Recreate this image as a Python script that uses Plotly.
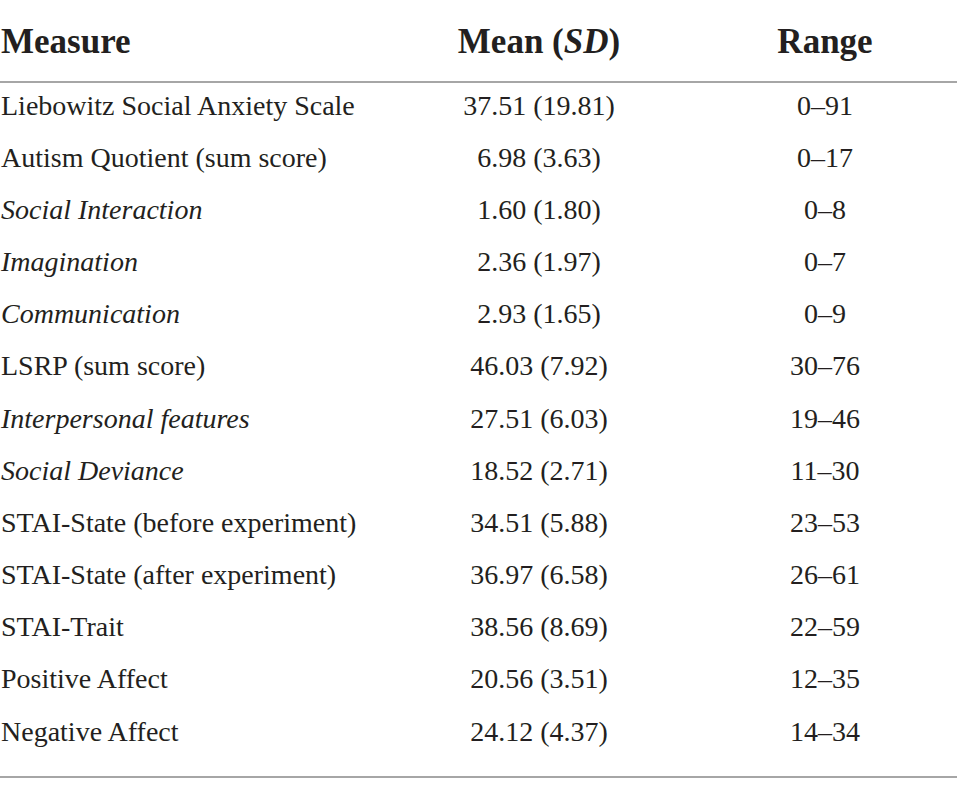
import plotly.graph_objects as go

# table contents
measures = [
    "Liebowitz Social Anxiety Scale",
    "Autism Quotient (sum score)",
    "<i>Social Interaction</i>",
    "<i>Imagination</i>",
    "<i>Communication</i>",
    "LSRP (sum score)",
    "<i>Interpersonal features</i>",
    "<i>Social Deviance</i>",
    "STAI-State (before experiment)",
    "STAI-State (after experiment)",
    "STAI-Trait",
    "Positive Affect",
    "Negative Affect",
]
means = [37.51, 6.98, 1.60, 2.36, 2.93, 46.03, 27.51, 18.52, 34.51, 36.97, 38.56, 20.56, 24.12]
sds = [19.81, 3.63, 1.80, 1.97, 1.65, 7.92, 6.03, 2.71, 5.88, 6.58, 8.69, 3.51, 4.37]
range_lo = [0, 0, 0, 0, 0, 30, 19, 11, 23, 26, 22, 12, 14]
range_hi = [91, 17, 8, 7, 9, 76, 46, 30, 53, 61, 59, 35, 34]
headers = ["<b>Measure</b>", "<b>Mean (<i>SD</i>)</b>", "<b>Range</b>"]

# layout in pixel-like units
W, H = 957, 796
col_x = [1, 539, 825]
header_y = 44
row_top, row_step = 107.5, 52.18
FONT = "Liberation Serif"
INK = "#231f20"
HEAD_SIZE, BODY_SIZE = 35, 28

rows_y = [row_top + i * row_step for i in range(len(measures))]
mean_txt = [f"{m:.2f} ({s:.2f})" for m, s in zip(means, sds)]
range_txt = [f"{a}\u2013{b}" for a, b in zip(range_lo, range_hi)]

fig = go.Figure()

# header row
fig.add_trace(go.Scatter(
    x=[col_x[0]], y=[header_y], mode="text", text=[headers[0]],
    textposition="middle right", textfont=dict(family=FONT, size=HEAD_SIZE, color=INK),
    hoverinfo="skip"))
fig.add_trace(go.Scatter(
    x=col_x[1:], y=[header_y, header_y], mode="text", text=headers[1:],
    textposition="middle center", textfont=dict(family=FONT, size=HEAD_SIZE, color=INK),
    hoverinfo="skip"))

# body
fig.add_trace(go.Scatter(
    x=[col_x[0]] * len(measures), y=rows_y, mode="text", text=measures,
    textposition="middle right", textfont=dict(family=FONT, size=BODY_SIZE, color=INK),
    hoverinfo="skip"))
fig.add_trace(go.Scatter(
    x=[col_x[1]] * len(measures), y=rows_y, mode="text", text=mean_txt,
    textposition="middle center", textfont=dict(family=FONT, size=BODY_SIZE, color=INK),
    hoverinfo="skip"))
fig.add_trace(go.Scatter(
    x=[col_x[2]] * len(measures), y=rows_y, mode="text", text=range_txt,
    textposition="middle center", textfont=dict(family=FONT, size=BODY_SIZE, color=INK),
    hoverinfo="skip"))

# rules
for yy in (82, 777):
    fig.add_shape(type="line", x0=0, x1=W, y0=yy, y1=yy,
                  line=dict(color="#a6a6a6", width=2))

fig.update_xaxes(range=[0, W], visible=False, fixedrange=True)
fig.update_yaxes(range=[H, 0], visible=False, fixedrange=True)
fig.update_layout(
    width=W, height=H, showlegend=False,
    margin=dict(l=0, r=0, t=0, b=0),
    plot_bgcolor="white", paper_bgcolor="white",
)

# drop the default page margin so the figure fills the window
fig.write_html("out.html", config={"displayModeBar": False},
               post_script="document.body.style.margin='0';")
